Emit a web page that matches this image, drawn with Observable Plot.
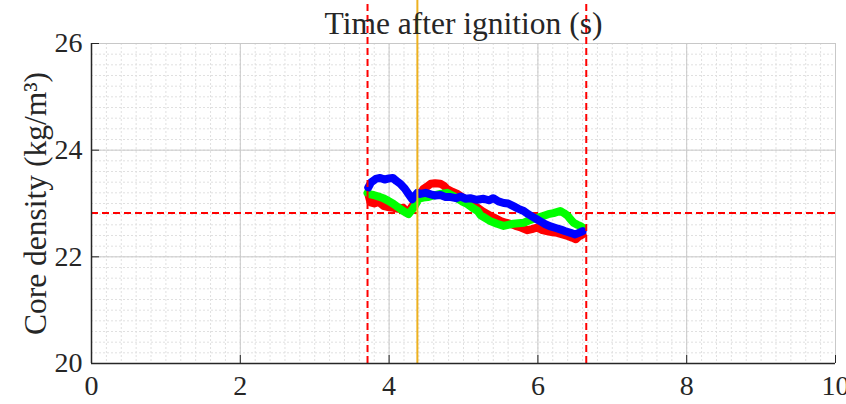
<!DOCTYPE html>
<html>
<head>
<meta charset="utf-8">
<script src="https://cdn.jsdelivr.net/npm/d3@7"></script>
<script src="https://cdn.jsdelivr.net/npm/@observablehq/plot@0.6"></script>
<style>
  html, body { margin: 0; padding: 0; background: #fff; }
  #chart svg { display: block; }
</style>
</head>
<body>
<div id="chart"></div>
<script>
// ---- data ----
const xTicks = [0, 2, 4, 6, 8, 10];
const yTicks = [20, 22, 24, 26];
const xTitle = "Time after ignition (s)";
const yTitle = "Core density (kg/m³)";

const redTime = [3.72, 3.75, 3.80, 3.86, 3.93, 4.00, 4.06, 4.12, 4.19, 4.25, 4.31, 4.38, 4.46, 4.52, 4.56, 4.62, 4.69, 4.74, 4.78, 4.85, 4.92, 4.98, 5.05, 5.12, 5.19, 5.26, 5.36, 5.43, 5.50, 5.57, 5.63, 5.70, 5.77, 5.86, 5.92, 5.99, 6.06, 6.13, 6.20, 6.26, 6.33, 6.40, 6.46, 6.51, 6.55, 6.60];
const redDensity = [23.18, 23.02, 23.00, 23.03, 22.95, 22.93, 22.92, 22.90, 22.92, 22.82, 22.95, 23.09, 23.27, 23.33, 23.37, 23.38, 23.37, 23.33, 23.27, 23.22, 23.18, 23.12, 23.05, 22.98, 22.92, 22.85, 22.77, 22.72, 22.67, 22.64, 22.62, 22.58, 22.55, 22.50, 22.52, 22.55, 22.50, 22.48, 22.46, 22.45, 22.42, 22.39, 22.36, 22.33, 22.38, 22.42];

const greenTime = [3.71, 3.75, 3.79, 3.86, 3.92, 3.99, 4.06, 4.12, 4.19, 4.26, 4.33, 4.40, 4.46, 4.52, 4.60, 4.69, 4.78, 4.85, 4.92, 4.98, 5.05, 5.12, 5.19, 5.23, 5.30, 5.36, 5.45, 5.54, 5.60, 5.67, 5.74, 5.81, 5.88, 5.94, 6.01, 6.08, 6.14, 6.21, 6.30, 6.35, 6.40, 6.44, 6.48, 6.53, 6.57, 6.60];
const greenDensity = [23.20, 23.17, 23.16, 23.13, 23.10, 23.05, 22.99, 22.93, 22.86, 22.80, 22.92, 23.09, 23.11, 23.12, 23.15, 23.18, 23.20, 23.15, 23.09, 23.04, 22.99, 22.92, 22.86, 22.78, 22.72, 22.67, 22.62, 22.58, 22.60, 22.62, 22.63, 22.64, 22.68, 22.71, 22.74, 22.77, 22.80, 22.82, 22.86, 22.82, 22.77, 22.70, 22.64, 22.60, 22.58, 22.55];

const blueTime = [3.72, 3.76, 3.82, 3.88, 3.94, 4.00, 4.05, 4.10, 4.15, 4.21, 4.26, 4.31, 4.35, 4.38, 4.42, 4.49, 4.56, 4.62, 4.69, 4.76, 4.83, 4.90, 4.96, 5.03, 5.09, 5.18, 5.27, 5.34, 5.40, 5.47, 5.54, 5.60, 5.67, 5.74, 5.81, 5.87, 5.93, 5.99, 6.04, 6.10, 6.17, 6.24, 6.31, 6.37, 6.44, 6.50, 6.55, 6.60];
const blueDensity = [23.30, 23.40, 23.46, 23.48, 23.45, 23.47, 23.48, 23.42, 23.37, 23.28, 23.18, 23.08, 23.15, 23.20, 23.18, 23.20, 23.17, 23.15, 23.16, 23.12, 23.12, 23.10, 23.13, 23.09, 23.10, 23.07, 23.09, 23.06, 23.10, 23.04, 23.01, 23.00, 22.95, 22.90, 22.86, 22.80, 22.75, 22.70, 22.66, 22.61, 22.57, 22.54, 22.51, 22.48, 22.45, 22.42, 22.45, 22.48];

const windowStart = [3.71];
const windowEnd = [6.65];
const ignitionMark = [4.38];
const referenceDensity = [22.82];
const lineTop = 26.81; // lines run past the top of the axes up to the picture edge

// ---- build ----
const toRows = (t, v) => t.map((x, i) => ({x, y: v[i]}));
const red = toRows(redTime, redDensity);
const green = toRows(greenTime, greenDensity);
const blue = toRows(blueTime, blueDensity);
const minorX = d3.range(0, 10.001, 0.2).map(v => +v.toFixed(2));
const minorY = d3.range(20, 26.001, 0.2).map(v => +v.toFixed(2));
const ink = "#262626";

const chart = Plot.plot({
  width: 846,
  height: 404,
  marginLeft: 91,
  marginRight: 11,
  marginTop: 43,
  marginBottom: 41,
  x: {domain: [0, 10]},
  y: {domain: [20, 26]},
  style: {fontFamily: "'Liberation Serif', 'Times New Roman', serif", fontSize: "28px", color: ink, background: "#fff"},
  marks: [
    Plot.gridX(minorX, {stroke: "#e0e0e0", strokeOpacity: 1, strokeDasharray: "2,2", strokeWidth: 1}),
    Plot.gridY(minorY, {stroke: "#e0e0e0", strokeOpacity: 1, strokeDasharray: "2,2", strokeWidth: 1}),
    Plot.gridX(xTicks, {stroke: "#c8c8c8", strokeOpacity: 1, strokeWidth: 1}),
    Plot.gridY(yTicks, {stroke: "#c8c8c8", strokeOpacity: 1, strokeWidth: 1}),
    Plot.ruleY(referenceDensity, {x1: 0, x2: 10, stroke: "#ff0000", strokeWidth: 2, strokeDasharray: "7,4"}),
    Plot.line(red, {x: "x", y: "y", stroke: "#ff0000", strokeWidth: 8}),
    Plot.line(green, {x: "x", y: "y", stroke: "#00ff00", strokeWidth: 8}),
    Plot.line(blue, {x: "x", y: "y", stroke: "#0000ff", strokeWidth: 8}),
    Plot.ruleX(windowStart, {y1: 20, y2: lineTop, stroke: "#ff0000", strokeWidth: 2, strokeDasharray: "7,4"}),
    Plot.ruleX(windowEnd, {y1: 20, y2: lineTop, stroke: "#ff0000", strokeWidth: 2, strokeDasharray: "7,4"}),
    Plot.ruleX(ignitionMark, {y1: 20, y2: lineTop, stroke: "#edb120", strokeWidth: 2}),
    Plot.ruleX([0], {stroke: ink, strokeWidth: 1.5}),
    Plot.ruleY([20], {stroke: ink, strokeWidth: 1.5}),
    Plot.axisX({ticks: xTicks, tickSize: 8, dy: -8, tickFormat: () => "", stroke: ink, label: null}),
    Plot.axisY({ticks: yTicks, tickSize: 8, dx: 8, tickFormat: () => "", stroke: ink, label: null}),
    Plot.axisX({ticks: xTicks, tickSize: 0, tickPadding: 12, tickFormat: d => String(d), fontSize: 28, label: null, fill: ink}),
    Plot.axisY({ticks: yTicks, tickSize: 0, tickPadding: 9, tickFormat: d => String(d), fontSize: 28, label: null, fill: ink}),
    Plot.text([xTitle], {text: d => d, frameAnchor: "top", textAnchor: "middle", dy: -10, lineAnchor: "bottom", fontSize: 31.5, fill: ink}),
    Plot.text([yTitle], {text: d => d, frameAnchor: "left", textAnchor: "middle", dx: -56, rotate: -90, lineAnchor: "middle", fontSize: 31.5, fill: ink})
  ]
});
document.getElementById("chart").appendChild(chart);
</script>
</body>
</html>
